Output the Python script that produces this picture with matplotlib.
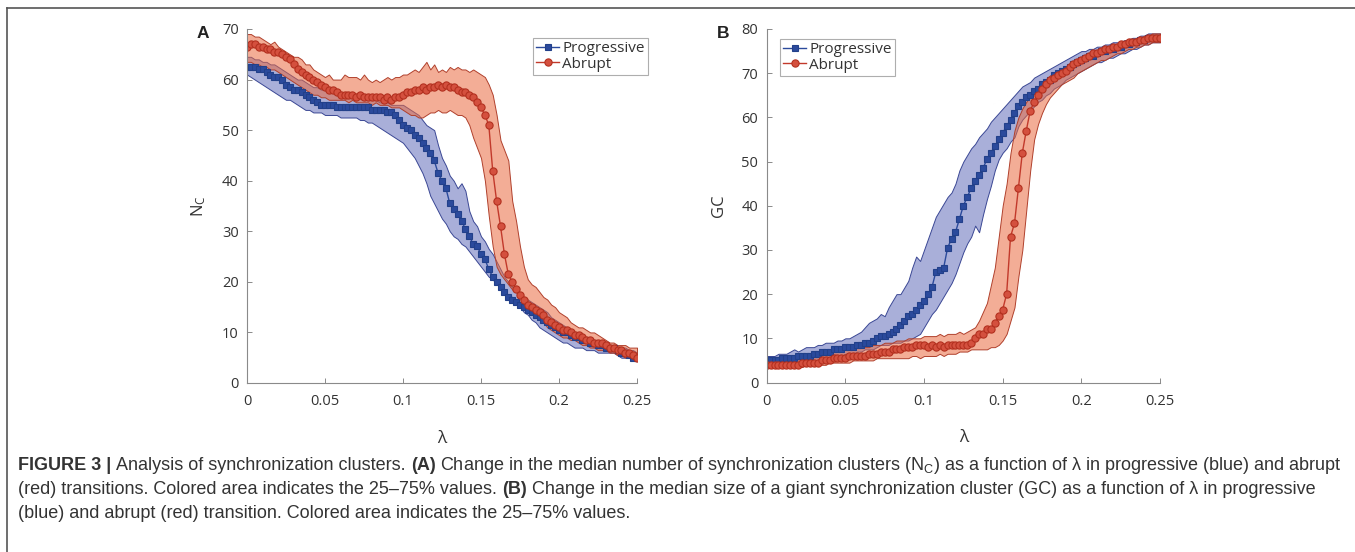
import matplotlib.pyplot as plt
import numpy as np
from matplotlib.lines import Line2D
from matplotlib.colors import to_rgba

plt.rcParams['font.family'] = ['Open Sans', 'DejaVu Sans']

# lambda grid (0 .. 0.25, 101 samples)
lam = np.linspace(0, 0.25, 101)

# ---- panel A: number of synchronization clusters N_C ----
prog_nc = [62.5, 62.5, 62.5, 62, 62, 61.5, 61, 60.5, 60.5, 60,
           59, 58.5, 58, 58, 57.5, 57, 56.5, 56, 55.5, 55,
           55, 55, 55, 54.5, 54.5, 54.5, 54.5, 54.5, 54.5, 54.5,
           54.5, 54.5, 54, 54, 54, 54, 53.5, 53.5, 53, 52,
           51, 50.5, 50, 49, 48.5, 47.5, 46.5, 45.5, 44, 41.5,
           40, 38.5, 35.5, 34.5, 33.5, 32, 30.5, 29, 27.5, 27,
           25.5, 24.5, 22.5, 21, 20, 19, 18, 17, 16.5, 16,
           15.5, 15, 14.5, 14, 13.5, 13, 12.5, 12, 11.5, 11,
           10.5, 10, 10, 9.5, 9, 9, 8.5, 8.5, 8, 8,
           7.5, 7.5, 7, 7, 7, 6.5, 6, 6, 5.5, 5,
           5]
prog_nc_lo = [61, 60.5, 60, 59.5, 59, 58.5, 58, 57.5, 57, 56.5,
              56, 56, 55.5, 55, 54.5, 54, 54, 53.5, 53.5, 53.5,
              53, 53, 53, 53, 52.5, 52.5, 52.5, 52.5, 52.5, 52,
              52, 51.5, 51.5, 51, 50.5, 50, 49.5, 49, 48.5, 48,
              47.5, 46.5, 45.5, 44.5, 43, 41.5, 39.5, 37, 35.5, 34,
              32.5, 31.5, 30, 29, 28.5, 27.5, 27, 26, 25, 24,
              23, 22, 21, 20.5, 19.5, 19, 18, 17.5, 17, 16,
              15, 14, 13.5, 12.5, 12, 11, 10.5, 10, 9.5, 9,
              8.5, 8, 8, 7.5, 7, 7, 7, 6.5, 6.5, 6.5,
              6, 6, 6, 6, 6, 5.5, 5, 5, 5, 4.5,
              4.5]
prog_nc_hi = [64.5, 64.5, 64, 64, 63.5, 63.5, 63, 63, 62.5, 62,
              61.5, 61, 60.5, 60, 60, 59.5, 59, 58.5, 58.5, 58,
              58, 57.5, 57.5, 57.5, 57.5, 57, 57, 56.5, 56.5, 56.5,
              56, 56, 56, 56, 55.5, 55.5, 55.5, 55, 55, 55,
              55, 54.5, 54, 53.5, 53, 52, 51, 50.5, 50, 47,
              44.5, 43, 41, 40, 38.5, 39.5, 38, 34, 32, 31,
              29, 28, 26.5, 25.5, 24, 22.5, 21, 20, 19, 18.5,
              17.5, 17, 16.5, 16, 15.5, 15, 14.5, 14, 13, 12.5,
              12, 11.5, 11, 10.5, 10, 10, 9.5, 9, 9, 8.5,
              8.5, 8, 8, 7.5, 7.5, 7, 7, 7, 6.5, 6.5,
              6]
abr_nc = [66.5, 67, 67, 66.5, 66.5, 66, 66, 65.5, 65.5, 65,
          64.5, 64, 63, 62, 61.5, 61, 60.5, 60, 59.5, 59,
          58.5, 58, 58, 57.5, 57, 57, 57, 57, 56.5, 57,
          56.5, 56.5, 56.5, 56.5, 56.5, 56, 56.5, 56, 56.5, 56.5,
          57, 57.5, 57.5, 58, 58, 58.5, 58, 58.5, 58.5, 59,
          58.5, 59, 58.5, 58.5, 58, 57.5, 57.5, 57, 56.5, 55.5,
          54.5, 53, 51, 42, 36, 31, 25.5, 21.5, 20, 18.5,
          17.5, 16.5, 15.5, 15, 14.5, 14, 13.5, 12.5, 12, 11.5,
          11, 10.5, 10.5, 10, 9.5, 9.5, 9, 8.5, 8.5, 8,
          8, 8, 7.5, 7, 7, 6.5, 6.5, 6, 6, 5.5,
          5]
abr_nc_lo = [63.5, 63.5, 63, 63, 62.5, 62.5, 62, 62, 61.5, 61,
             60.5, 60, 59.5, 59, 58.5, 58, 57.5, 57, 57, 56.5,
             56.5, 56, 56, 56, 56, 56, 55.5, 56, 55.5, 55.5,
             55.5, 55.5, 55, 55.5, 55, 55, 55, 54.5, 54.5, 54.5,
             54, 53.5, 53, 53, 52.5, 52.5, 53, 53.5, 53.5, 54,
             53.5, 53.5, 54, 53.5, 53, 53, 52.5, 51, 48.5, 46.5,
             44.5, 40, 33, 27, 23, 21.5, 20.5, 19.5, 18.5, 18,
             17, 16, 15, 14.5, 13.5, 12.5, 12, 11, 10.5, 10,
             9.5, 9, 9, 8.5, 8.5, 8, 7.5, 7.5, 7, 7,
             6.5, 6.5, 6.5, 6, 6, 5.5, 5.5, 5, 5, 4.5,
             4.5]
abr_nc_hi = [69, 69, 68.5, 68.5, 68, 67.5, 67, 67.5, 66.5, 66,
             65.5, 65, 64.5, 64.5, 64, 63, 63, 62, 61.5, 61,
             60.5, 61, 60, 60, 60, 61, 60.5, 60.5, 60.5, 60,
             61, 60, 59.5, 60, 59.5, 60, 60.5, 60, 60.5, 60.5,
             61, 61, 61.5, 62, 61.5, 62.5, 63.5, 62, 63, 61.5,
             62, 61.5, 62.5, 62, 62.5, 62, 62, 61.5, 62, 61.5,
             61, 60.5, 59, 57, 53, 48, 46, 44, 36, 32,
             27, 23, 20.5, 19.5, 19, 18, 17, 16.5, 15.5, 15,
             14, 13.5, 13, 12, 11.5, 11, 11, 10.5, 10, 10,
             9.5, 9, 8.5, 8, 8, 7.5, 7.5, 7.5, 7, 7,
             7]

# ---- panel B: size of the giant synchronization cluster GC ----
prog_gc = [5, 5, 5, 5, 5.5, 5.5, 5.5, 5.5, 6, 6,
           6, 6, 6.5, 6.5, 7, 7, 7, 7.5, 7.5, 7.5,
           8, 8, 8, 8.5, 8.5, 9, 9, 9.5, 10, 10.5,
           10.5, 11, 11.5, 12, 13, 14, 15, 15.5, 16.5, 17.5,
           18.5, 20, 21.5, 25, 25.5, 26, 30.5, 32.5, 34, 37,
           40, 42, 44, 45.5, 47, 48.5, 50.5, 52, 53.5, 55,
           56.5, 58, 59.5, 61, 62.5, 63.5, 64.5, 65, 66, 66.5,
           67.5, 68, 68.5, 69.5, 70, 70.5, 71, 71.5, 72, 72.5,
           73, 73.5, 74, 74, 74.5, 75, 75, 75.5, 75.5, 76,
           76, 76.5, 76.5, 77, 77, 77.5, 77.5, 78, 78, 78,
           78]
prog_gc_lo = [4.5, 4.5, 4.5, 4.5, 4.5, 4.5, 4.5, 5, 5, 5,
              5, 5, 5, 5, 5.5, 5.5, 5.5, 6, 6, 6,
              6.5, 6.5, 6.5, 7, 7, 7.5, 7.5, 7.5, 8, 8.5,
              8.5, 8.5, 9, 9, 9, 9.5, 9.5, 10, 10.5, 11,
              12.5, 14, 15.5, 16.5, 18, 19.5, 21, 22.5, 24.5, 27,
              29.5, 31.5, 33, 35.5, 34, 38, 41.5, 44.5, 48, 50.5,
              52, 53, 54.5, 55.5, 58, 59.5, 60.5, 61.5, 62.5, 63.5,
              64, 65, 65.5, 66.5, 67, 67.5, 68.5, 69, 69.5, 70,
              70.5, 71, 71.5, 72, 72.5, 72.5, 73, 73.5, 73.5, 74,
              74.5, 74.5, 75, 75.5, 75.5, 76, 76.5, 76.5, 77, 77,
              77]
prog_gc_hi = [6, 6, 6, 6.5, 6.5, 6.5, 7, 7.5, 7, 7.5,
              8, 8, 8, 8.5, 8.5, 9, 9, 9, 9.5, 9.5,
              10, 10, 10.5, 11, 11.5, 12.5, 13.5, 14, 14.5, 15.5,
              15, 17, 18.5, 20, 20, 21.5, 23, 26, 28.5, 27.5,
              30, 32.5, 35, 37.5, 39, 40.5, 42, 43, 45, 48,
              50, 51.5, 53, 54, 55.5, 56.5, 57.5, 59, 60, 61,
              62, 63, 64, 65, 66, 67, 67.5, 68, 69, 69.5,
              70, 70.5, 71, 71.5, 72, 72.5, 73, 73.5, 74, 74.5,
              75, 75, 75.5, 75.5, 76, 76, 76.5, 76.5, 77, 77,
              77, 77.5, 77.5, 78, 78, 78.5, 78.5, 79, 79, 79,
              79]
abr_gc = [4, 4, 4, 4, 4, 4, 4, 4, 4, 4.5,
          4.5, 4.5, 4.5, 4.5, 5, 5, 5, 5.5, 5.5, 5.5,
          5.5, 6, 6, 6, 6, 6, 6.5, 6.5, 6.5, 7,
          7, 7, 7.5, 7.5, 7.5, 8, 8, 8, 8.5, 8.5,
          8.5, 8, 8.5, 8, 8.5, 8, 8.5, 8.5, 8.5, 8.5,
          8.5, 8.5, 9, 10, 11, 11, 12, 12, 13.5, 15,
          16.5, 20, 33, 36, 44, 52, 57, 61.5, 63.5, 65,
          66.5, 67.5, 68.5, 69, 69.5, 70, 70.5, 71.5, 72, 72.5,
          73, 73.5, 74, 74.5, 74.5, 75, 75.5, 75.5, 76, 76,
          76.5, 76.5, 77, 77, 77, 77.5, 77.5, 78, 78, 78,
          78]
abr_gc_lo = [3.5, 3.5, 3.5, 3.5, 3.5, 3.5, 3.5, 3.5, 3.5, 3.5,
             4, 4, 4, 4, 4, 4, 4.5, 4.5, 4.5, 4.5,
             4.5, 4.5, 5, 5, 5, 5, 5, 5, 5.5, 5.5,
             5.5, 5.5, 5.5, 5.5, 5.5, 5.5, 5.5, 6, 6, 5.5,
             6, 6, 6, 6, 6.5, 6, 6.5, 6.5, 6.5, 7,
             7, 7, 7.5, 7.5, 7.5, 7.5, 7.5, 8, 8, 8.5,
             9.5, 11, 14, 17, 24, 30, 39, 48, 55, 58.5,
             61, 63, 64.5, 65.5, 66.5, 67.5, 68, 68.5, 69, 70,
             70.5, 71, 71.5, 72, 72.5, 73, 73, 73.5, 74, 74.5,
             74.5, 75, 75.5, 75.5, 76, 76, 76.5, 76.5, 77, 77,
             77]
abr_gc_hi = [5, 5, 5, 5, 5.5, 5.5, 5.5, 6, 6, 6,
             6, 6.5, 6.5, 6.5, 7, 7, 7, 7, 7.5, 7.5,
             7.5, 7.5, 7.5, 8, 8, 8, 8, 8.5, 8.5, 8.5,
             9, 9, 9, 9.5, 9.5, 9.5, 10, 10, 10, 10,
             10.5, 10.5, 10.5, 10.5, 11, 10.5, 11, 11, 11, 11.5,
             11, 11.5, 12, 12.5, 14, 16, 18, 22, 26, 33,
             40, 45, 52, 57, 60, 62, 63.5, 65, 66, 67,
             68, 68.5, 69.5, 70, 70.5, 71, 71.5, 72, 72.5, 73,
             73.5, 74, 74.5, 75, 75, 75.5, 76, 76, 76.5, 76.5,
             77, 77, 77.5, 77.5, 78, 78, 78.5, 78.5, 79, 79,
             79]

xticks = [0, 0.05, 0.1, 0.15, 0.2, 0.25]
xticklabels = ['0', '0.05', '0.1', '0.15', '0.2', '0.25']

BLUE = '#2b4a9c'
RED = '#c2392b'
W, H = 1355, 552

fig = plt.figure(figsize=(W / 100, H / 100), dpi=100)
axA = fig.add_axes([247 / W, 1 - 383 / H, 390 / W, 354 / H])
axB = fig.add_axes([766.7 / W, 1 - 382.5 / H, 393.3 / W, 353.5 / H])


def panel(ax, prog, prog_lo, prog_hi, abr, abr_lo, abr_hi, ymax, ylabel, letter, leg_xy, ylab_x):
    ax.fill_between(lam, prog_lo, prog_hi, facecolor=to_rgba('#5560b5', 0.5),
                    edgecolor='#3a4794', lw=0.7)
    ax.plot(lam, prog, '-s', color=BLUE, ms=4.6, mfc=BLUE, mec='#22408a',
            mew=0.8, lw=1.0, label='Progressive')
    ax.fill_between(lam, abr_lo, abr_hi, facecolor=to_rgba('#ea6a40', 0.55),
                    edgecolor='#b0402c', lw=0.7)
    ax.plot(lam, abr, '-o', color=RED, ms=5.2, mfc='#d4503e', mec='#b3301f',
            mew=0.8, lw=1.0, label='Abrupt')

    ax.set_xlim(0, 0.25)
    ax.set_ylim(0, ymax)
    ax.set_xticks(xticks)
    ax.set_xticklabels(xticklabels)
    ax.set_yticks(np.arange(0, ymax + 1, 10))
    for s in ['top', 'right']:
        ax.spines[s].set_visible(False)
    for s in ['left', 'bottom']:
        ax.spines[s].set_color('#8a8a8a')
        ax.spines[s].set_linewidth(0.8)
    ax.tick_params(direction='in', length=3.5, width=0.7, color='#8a8a8a',
                   labelsize=10.5, labelcolor='#333333')
    ax.tick_params(axis='x', pad=8)
    ax.tick_params(axis='y', pad=6)

    ax.set_ylabel(ylabel, fontsize=12, color='#333333')
    ax.yaxis.set_label_coords(ylab_x, 0.5)
    ax.set_xlabel('λ', fontsize=12.5, color='#333333')
    ax.xaxis.set_label_coords(0.5, -0.135)

    pos = ax.get_position()
    fig.text(pos.x0 - 44 / W, 1 - 34 / H, letter, fontsize=12.5, fontweight='bold',
             family=['Liberation Sans'], ha='center', va='center', color='#222222')

    leg = ax.legend(loc='upper left', bbox_to_anchor=(leg_xy[0] / W, 1 - leg_xy[1] / H),
                    bbox_transform=fig.transFigure, frameon=True, fancybox=False,
                    fontsize=11, handlelength=1.5, handletextpad=0.2, borderpad=0.2,
                    labelspacing=0.05, borderaxespad=0, numpoints=1)
    leg.get_frame().set_edgecolor('#9a9a9a')
    leg.get_frame().set_linewidth(0.8)
    for t in leg.get_texts():
        t.set_color('#333333')


panel(axA, prog_nc, prog_nc_lo, prog_nc_hi, abr_nc, abr_nc_lo, abr_nc_hi,
      70, r'$\mathregular{N_C}$', 'A', (533, 38), -0.1)
panel(axB, prog_gc, prog_gc_lo, prog_gc_hi, abr_gc, abr_gc_lo, abr_gc_hi,
      80, 'GC', 'B', (780, 39), -0.1)

# frame around the figure (top and left rule)
fig.add_artist(Line2D([7 / W, 1], [1 - 8 / H, 1 - 8 / H], transform=fig.transFigure,
                      color='#555555', lw=1.2))
fig.add_artist(Line2D([7 / W, 7 / W], [0, 1 - 8 / H], transform=fig.transFigure,
                      color='#555555', lw=1.2))

# caption, drawn piece by piece so bold parts sit inline
CAP_FONT = ['Liberation Sans', 'DejaVu Sans']
renderer = fig.canvas.get_renderer()
cap_lines = [
    [('FIGURE 3 |', 'bold'), ('Analysis of synchronization clusters.', 'normal'), ('(A)', 'bold'),
     ('Change in the median number of synchronization clusters ($\\mathregular{N_C}$) as a '
      'function of λ in progressive (blue) and abrupt', 'normal')],
    [('(red) transitions. Colored area indicates the 25–75% values.', 'normal'), ('(B)', 'bold'),
     ('Change in the median size of a giant synchronization cluster (GC) as a function of λ '
      'in progressive', 'normal')],
    [('(blue) and abrupt (red) transition. Colored area indicates the 25–75% values.', 'normal')],
]


def width_px(s, weight, size):
    t = fig.text(0, 0, s, fontsize=size, fontweight=weight, family=CAP_FONT)
    w = t.get_window_extent(renderer).width
    t.remove()
    return w


def line_width(segs, size):
    sp = width_px('x x', 'normal', size) - width_px('xx', 'normal', size)
    return sum(width_px(s, w, size) for s, w in segs) + sp * (len(segs) - 1)


cap_size = 10 * (1324 / line_width(cap_lines[0], 10))
space = width_px('x x', 'normal', cap_size) - width_px('xx', 'normal', cap_size)
for segs, y in zip(cap_lines, [466, 490, 514]):
    x = 18
    for s, w in segs:
        fig.text(x / W, 1 - y / H, s, fontsize=cap_size, fontweight=w, family=CAP_FONT,
                 va='center', ha='left', color='#333333')
        x += width_px(s, w, cap_size) + space

fig.savefig('out.png', dpi=100)
